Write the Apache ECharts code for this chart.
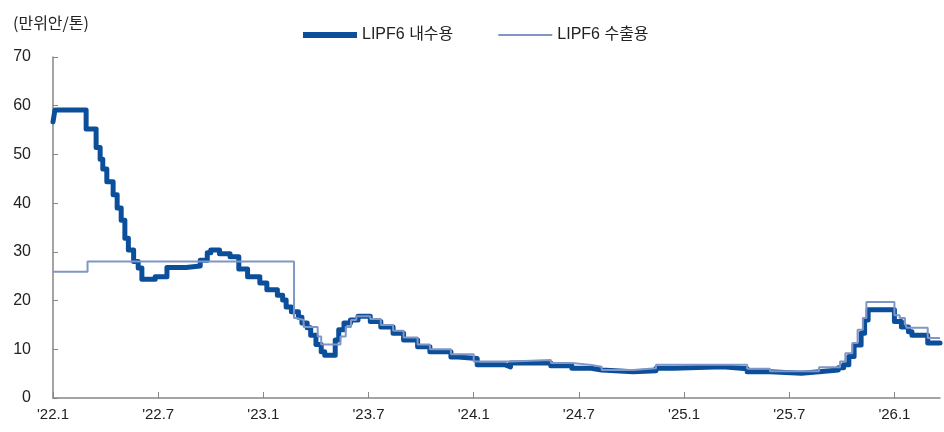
<!DOCTYPE html>
<html>
<head>
<meta charset="utf-8">
<script src="https://cdn.jsdelivr.net/npm/echarts@6/dist/echarts.min.js"></script>
<style>
  html, body { margin: 0; padding: 0; background: #fff; }
  #chart { width: 944px; height: 432px; }
</style>
</head>
<body>
<div id="chart"></div>
<script>
// x = months since 2022.1, value = 만위안/톤 (change points of the weekly price)
let domesticPts = [
  [0, 56.7], [0.11, 59.1], [1.89, 55.2], [2.46, 51.4], [2.69, 49], [2.84, 47],
  [3.07, 44.4], [3.43, 41.7], [3.66, 39], [3.89, 36.5], [4.1, 32.8], [4.3, 30.4],
  [4.6, 28], [4.86, 26.7], [5.07, 24.4], [5.83, 24.9], [6.5, 26.8], [7.6, 27.1],
  [8.4, 28.3], [8.8, 29.8], [9.0, 30.4], [9.5, 29.6], [10.1, 29], [10.6, 26.5],
  [11.1, 24.9], [11.8, 23.6], [12.2, 22.2], [12.8, 21.1], [13.1, 20.1], [13.3, 18.7],
  [13.6, 17.7], [14.0, 16.6], [14.2, 15.4], [14.5, 14.4], [14.7, 12.9], [15.0, 11],
  [15.3, 9.5], [15.5, 8.8], [16.1, 11.9], [16.3, 14], [16.6, 15.4], [16.97, 16],
  [17.4, 16.8], [18.1, 15.7], [18.7, 14.6], [19.4, 13.3], [20.0, 11.9], [20.8, 10.5],
  [21.5, 9.5], [22.7, 8.4], [23.1, 8.1], [24.2, 6.8], [25.8, 6.4], [26.1, 7.2],
  [28.4, 6.6], [29.6, 6.1], [30.7, 5.75], [31.3, 5.4], [33.1, 5.6], [34.4, 6.1],
  [35.4, 6.4], [38.2, 6], [39.6, 5.4], [40.9, 5.1], [42.7, 5.4], [43.7, 5.75],
  [44.8, 6.2], [45.1, 6.8], [45.4, 8.5], [45.7, 10.9], [46.1, 13.3], [46.3, 16],
  [46.5, 18.1], [48.0, 15.7], [48.4, 14.6], [48.8, 13.6], [49.0, 12.9], [49.9, 11.3],
  [50.6, 11.3]
]
let exportPts = [
  [0, 25.9], [1.97, 28], [13.6, 28], [13.75, 16.4], [13.9, 16], [14.3, 14.6],
  [15.1, 12.6], [15.3, 11], [16.4, 12.6], [16.7, 14.6], [17.0, 16], [17.3, 16.8],
  [18.1, 16.2], [18.7, 15], [19.4, 13.8], [20.0, 12.4], [20.8, 11], [21.5, 10],
  [22.7, 9], [24.0, 7.5], [26.1, 7.8], [28.4, 7.2], [29.6, 6.8], [30.7, 6.4],
  [31.3, 5.75], [33.1, 6.1], [34.4, 6.8], [38.2, 6.8], [39.6, 6], [40.9, 5.5],
  [43.7, 6.3], [44.9, 7.5], [45.2, 9.2], [45.6, 11.3], [45.9, 14], [46.2, 16.4],
  [46.4, 19.7], [48.0, 17], [48.3, 16.4], [48.6, 15.4], [48.7, 14.4], [49.9, 12.3],
  [50.6, 12.3]
]
let xTickLabels = ["'22.1", "'22.7", "'23.1", "'23.7", "'24.1", "'24.7", "'25.1", "'25.7", "'26.1"]
let seriesNames = ['LIPF6 내수용', 'LIPF6 수출용']

let mychart = echarts.init(document.getElementById('chart'))
let axisGray = '#868686'
let font = "'Liberation Sans', Arial, sans-serif"

let options = {
  animation: false,
  textStyle: { fontFamily: font },
  title: {
    text: '(만위안/톤)',
    left: 8,
    top: 10,
    textStyle: { fontSize: 16, fontWeight: 'normal', color: '#222', fontFamily: "'Noto Sans CJK KR', sans-serif" }
  },
  legend: {
    top: 22,
    left: 298,
    itemGap: 45,
    itemWidth: 54,
    itemHeight: 6,
    icon: 'path://M0,0 L54,0 L54,6 L0,6 Z',
    textStyle: { fontSize: 16, color: '#222', fontFamily: "'Liberation Sans', 'Noto Sans CJK KR', sans-serif" },
    data: [
      { name: seriesNames[0], itemStyle: { color: '#0b4f9b' } },
      { name: seriesNames[1], icon: 'path://M0,0 L54,0 L54,2 L0,2 Z', itemStyle: { color: '#8096c6' } }
    ]
  },
  grid: { left: 53, right: 4, top: 57, bottom: 34 },
  xAxis: {
    type: 'value',
    min: 0,
    max: 50.6,
    interval: 6,
    splitLine: { show: false },
    axisLine: { lineStyle: { color: axisGray, width: 1.5 } },
    axisTick: { inside: true, length: 6, lineStyle: { color: axisGray } },
    axisLabel: {
      showMaxLabel: false,
      margin: 9,
      fontSize: 15,
      color: '#222',
      fontFamily: "'Liberation Sans Narrow', 'Liberation Sans', sans-serif",
      formatter: v => (v % 6 === 0 ? xTickLabels[v / 6] : '')
    }
  },
  yAxis: {
    type: 'value',
    min: 0,
    max: 70,
    interval: 10,
    splitLine: { show: false },
    axisLine: { show: true, lineStyle: { color: axisGray, width: 1.5 } },
    axisTick: { show: true, inside: true, length: 5, lineStyle: { color: axisGray } },
    axisLabel: { margin: 22, fontSize: 16, color: '#222' }
  },
  series: [
    {
      name: seriesNames[0],
      type: 'line',
      step: 'end',
      data: domesticPts,
      showSymbol: false,
      z: 3,
      lineStyle: { color: '#0b4f9b', width: 5, join: 'round', cap: 'round' },
      itemStyle: { color: '#0b4f9b' }
    },
    {
      name: seriesNames[1],
      type: 'line',
      step: 'end',
      data: exportPts,
      showSymbol: false,
      z: 4,
      lineStyle: { color: '#8096c6', width: 2 },
      itemStyle: { color: '#8096c6' }
    }
  ]
}
mychart.setOption(options)
</script>
</body>
</html>
